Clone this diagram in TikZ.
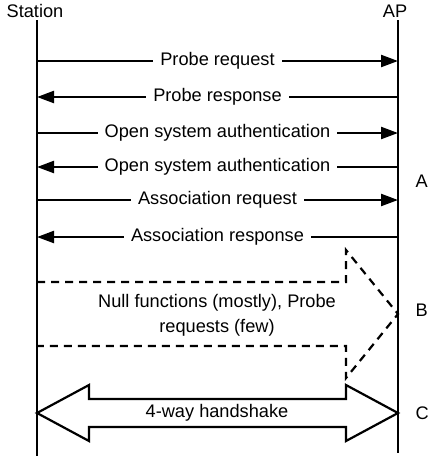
\documentclass[tikz,border=0pt]{standalone}
\usepackage{fontspec}
\setmainfont{Liberation Sans}
\usetikzlibrary{arrows.meta}

\tikzset{
  life/.style={line width=2.2pt},
  msg/.style={line width=2.2pt, -{Triangle[length=17pt,width=12pt]}},
  lbl/.style={fill=white, inner xsep=7pt, inner ysep=1pt},
  phase/.style={anchor=west},
}

\begin{document}
\begin{tikzpicture}[x=1pt, y=-1pt, font=\fontsize{18.2}{25}\selectfont]
  \useasboundingbox (0,0) rectangle (428,463);
  % lifelines
  \node (station) at (35,11) {Station};
  \node (ap) at (395,11) {AP};
  \coordinate (st top) at (37,20);
  \coordinate (st bot) at (37,456);
  \coordinate (ap top) at (398,20);
  \coordinate (ap bot) at (398,453);
  \draw[life] (st top) -- (st bot);
  \draw[life] (ap top) -- (ap bot);
  % messages
  \foreach \i/\y in {1/61, 2/97, 3/133, 4/167, 5/200, 6/237} {
    \coordinate (s\i) at (37,\y);
    \coordinate (a\i) at (398,\y);
  }
  \draw[msg] (s1) -- node[lbl] {Probe request} (a1);
  \draw[msg] (a2) -- node[lbl] {Probe response} (s2);
  \draw[msg] (s3) -- node[lbl] {Open system authentication} (a3);
  \draw[msg] (a4) -- node[lbl] {Open system authentication} (s4);
  \draw[msg] (s5) -- node[lbl] {Association request} (a5);
  \draw[msg] (a6) -- node[lbl] {Association response} (s6);
  % dashed arrow
  \coordinate (d1) at (37,282);
  \coordinate (d2) at (346,282);
  \coordinate (d3) at (346,250);
  \coordinate (d4) at (398,314);
  \coordinate (d5) at (346,378);
  \coordinate (d6) at (346,346);
  \coordinate (d7) at (37,346);
  \draw[life, dash pattern=on 8pt off 6pt] (d1) -- (d2) -- (d3) -- (d4) -- (d5) -- (d6) -- (d7);
  \node[align=center] (nullfn) at (217,315) {Null functions (mostly), Probe\\requests (few)};
  % handshake
  \coordinate (h1) at (37,413);
  \coordinate (h2) at (89,385);
  \coordinate (h3) at (89,399);
  \coordinate (h4) at (346,399);
  \coordinate (h5) at (346,385);
  \coordinate (h6) at (398,413);
  \coordinate (h7) at (346,441);
  \coordinate (h8) at (346,427);
  \coordinate (h9) at (89,427);
  \coordinate (h10) at (89,441);
  \draw[life, line join=miter] (h1) -- (h2) -- (h3) -- (h4) -- (h5) -- (h6) -- (h7) -- (h8) -- (h9) -- (h10) -- cycle;
  \node (hs) at (217,413) {4-way handshake};
  % phases
  \node[phase] (A) at (412,181) {A};
  \node[phase] (B) at (412,310) {B};
  \node[phase] (C) at (412,413) {C};
\end{tikzpicture}
\end{document}
